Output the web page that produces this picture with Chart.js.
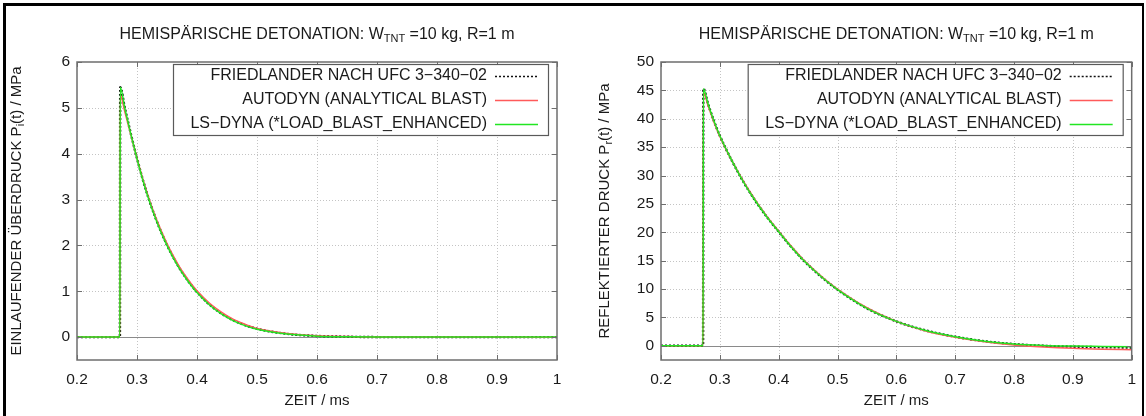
<!DOCTYPE html>
<html>
<head>
<meta charset="utf-8">
<script src="https://cdn.jsdelivr.net/npm/chart.js@4.4.1/dist/chart.umd.min.js"></script>
<style>
  html, body { margin: 0; padding: 0; background: #fff; }
  #wrap { position: relative; width: 1146px; height: 416px; overflow: hidden; }
  .panel { position: absolute; top: 0; }
  #frame {
    position: absolute; left: 3px; top: 3px; width: 1141px; height: 420px;
    border-top: 3px solid #000; border-left: 3px solid #000; border-right: 2px solid #000;
    box-sizing: border-box; pointer-events: none;
  }
</style>
</head>
<body>
<div id="wrap">
  <canvas id="incChart" class="panel" style="left:0" width="573" height="416"></canvas>
  <canvas id="refChart" class="panel" style="left:573px" width="573" height="416"></canvas>
  <div id="frame"></div>
</div>
<script>
// time axis and tick values (ms)
const xTicks = [0.2, 0.3, 0.4, 0.5, 0.6, 0.7, 0.8, 0.9, 1.0];
const yTicksInc = [0, 1, 2, 3, 4, 5, 6];
const yTicksRef = [0, 5, 10, 15, 20, 25, 30, 35, 40, 45, 50];

const seriesLabels = [
  'FRIEDLANDER NACH UFC 3\u2212340\u221202',
  'AUTODYN (ANALYTICAL BLAST)',
  'LS\u2212DYNA (*LOAD_BLAST_ENHANCED)'
];

// incident overpressure P_i(t) in MPa
const timeInc = [0.2, 0.2715, 0.272, 0.28, 0.29, 0.30, 0.31, 0.32, 0.33, 0.34, 0.35, 0.36, 0.37, 0.38, 0.39, 0.40,
                 0.42, 0.44, 0.46, 0.48, 0.50, 0.55, 0.60, 0.65, 0.70, 0.80, 0.90, 1.0];
const friedInc   = [0, 0, 5.45, 4.98, 4.42, 3.90, 3.42, 3.00, 2.63, 2.30, 2.01, 1.75, 1.52, 1.32, 1.14, 0.98,
                    0.72, 0.52, 0.37, 0.26, 0.18, 0.07, 0.025, 0.008, 0, 0, 0, 0];
const autodynInc = [0, 0, 5.28, 4.90, 4.40, 3.90, 3.43, 3.02, 2.65, 2.33, 2.04, 1.78, 1.55, 1.35, 1.17, 1.01,
                    0.75, 0.55, 0.39, 0.28, 0.19, 0.08, 0.03, 0.01, 0, 0, 0, -0.005];
const lsdynaInc  = [0, 0, 5.45, 4.97, 4.41, 3.89, 3.41, 2.99, 2.62, 2.29, 2.00, 1.74, 1.51, 1.31, 1.13, 0.97,
                    0.71, 0.51, 0.36, 0.25, 0.17, 0.065, 0.02, 0.005, 0, 0, 0, 0];

// reflected pressure P_r(t) in MPa
const timeRef = [0.2, 0.2715, 0.272, 0.28, 0.29, 0.30, 0.32, 0.34, 0.36, 0.38, 0.40, 0.42, 0.44, 0.46, 0.48,
                 0.50, 0.55, 0.60, 0.65, 0.70, 0.75, 0.80, 0.85, 0.90, 0.95, 1.0];
const friedRef   = [0, 0, 45.3, 42.6, 39.6, 37.0, 32.7, 28.9, 25.6, 22.7, 20.1, 17.6, 15.3, 13.3, 11.5,
                    9.9, 6.6, 4.3, 2.7, 1.6, 0.8, 0.3, 0.0, -0.15, -0.25, -0.3];
const autodynRef = [0, 0, 44.6, 42.3, 39.4, 36.9, 32.7, 29.0, 25.7, 22.8, 20.2, 17.7, 15.4, 13.4, 11.6,
                    10.0, 6.7, 4.3, 2.6, 1.5, 0.7, 0.15, -0.2, -0.45, -0.6, -0.7];
const lsdynaRef  = [0, 0, 45.3, 42.6, 39.6, 37.0, 32.7, 28.9, 25.6, 22.7, 20.1, 17.6, 15.3, 13.3, 11.5,
                    9.9, 6.6, 4.3, 2.7, 1.6, 0.8, 0.3, 0.05, -0.05, -0.1, -0.15];

const FAMILY = '"Liberation Sans", Arial, sans-serif';
const TITLE_FONT = '16px ' + FAMILY;
const AXIS_FONT = '15px ' + FAMILY;
const SUB_FONT = '11px ' + FAMILY;
const TEXT_COLOR = '#1a1a1a';

const titleSegs = [
  { t: 'HEMISP\u00c4RISCHE DETONATION: W' }, { t: 'TNT', sub: true }, { t: ' =10 kg, R=1 m' }
];

const styles = [
  { borderColor: '#111111', borderWidth: 2.4, borderDash: [2, 2], order: 3 },
  { borderColor: '#ff5a5a', borderWidth: 1.5, borderDash: [], order: 2 },
  { borderColor: '#22e622', borderWidth: 1.5, borderDash: [], order: 1 }
];

function richWidth(ctx, segs, font) {
  let w = 0;
  for (const s of segs) {
    ctx.font = s.sub ? SUB_FONT : font;
    w += ctx.measureText(s.t).width;
  }
  return w;
}

function drawRich(ctx, segs, cx, cy, font) {
  let x = cx - richWidth(ctx, segs, font) / 2;
  ctx.textAlign = 'left';
  ctx.textBaseline = 'middle';
  ctx.fillStyle = TEXT_COLOR;
  for (const s of segs) {
    ctx.font = s.sub ? SUB_FONT : font;
    ctx.fillText(s.t, x, cy + (s.sub ? 4 : 0));
    x += ctx.measureText(s.t).width;
  }
}

// gnuplot-like frame: dotted grid, zero axis, border, inward ticks, boxed legend, titles
const gnuFrame = {
  id: 'gnuFrame',
  beforeDatasetsDraw(chart, args, opts) {
    const { ctx, chartArea: a, scales: { x, y } } = chart;
    ctx.save();
    ctx.strokeStyle = '#c4c4c4';
    ctx.lineWidth = 1;
    ctx.setLineDash([1, 2]);
    xTicks.forEach(v => {
      const px = Math.round(x.getPixelForValue(v)) + 0.5;
      if (px <= a.left + 1 || px >= a.right - 1) return;
      ctx.beginPath(); ctx.moveTo(px, a.top); ctx.lineTo(px, a.bottom); ctx.stroke();
    });
    opts.yTicks.forEach(v => {
      const py = Math.round(y.getPixelForValue(v)) + 0.5;
      if (py <= a.top + 1 || py >= a.bottom - 1) return;
      ctx.beginPath(); ctx.moveTo(a.left, py); ctx.lineTo(a.right, py); ctx.stroke();
    });
    ctx.setLineDash([]);
    ctx.strokeStyle = '#8a8a8a';
    const y0 = Math.round(y.getPixelForValue(0)) + 0.5;
    ctx.beginPath(); ctx.moveTo(a.left, y0); ctx.lineTo(a.right, y0); ctx.stroke();
    ctx.restore();
  },
  afterDatasetsDraw(chart, args, opts) {
    const { ctx, chartArea: a, scales: { x, y } } = chart;
    ctx.save();
    // border
    ctx.strokeStyle = '#6e6e6e';
    ctx.lineWidth = 1.5;
    ctx.strokeRect(a.left, a.top, a.right - a.left, a.bottom - a.top);
    // inward tick marks
    ctx.lineWidth = 1;
    xTicks.forEach(v => {
      const px = Math.round(x.getPixelForValue(v)) + 0.5;
      ctx.beginPath();
      ctx.moveTo(px, a.bottom); ctx.lineTo(px, a.bottom - 5);
      ctx.moveTo(px, a.top); ctx.lineTo(px, a.top + 5);
      ctx.stroke();
    });
    opts.yTicks.forEach(v => {
      const py = Math.round(y.getPixelForValue(v)) + 0.5;
      ctx.beginPath();
      ctx.moveTo(a.left, py); ctx.lineTo(a.left + 5, py);
      ctx.moveTo(a.right, py); ctx.lineTo(a.right - 5, py);
      ctx.stroke();
    });

    // legend box
    const boxR = a.right - 9, boxL = boxR - 375, boxT = a.top + 2, boxB = boxT + 71;
    ctx.fillStyle = '#fff';
    ctx.fillRect(boxL, boxT, boxR - boxL, boxB - boxT);
    ctx.strokeStyle = '#5a5a5a';
    ctx.lineWidth = 1.2;
    ctx.strokeRect(boxL + 0.5, boxT + 0.5, boxR - boxL, boxB - boxT);
    chart.data.datasets.forEach((ds, i) => {
      const ry = boxT + 12 + i * 24;
      ctx.font = TITLE_FONT;
      ctx.fillStyle = TEXT_COLOR;
      ctx.textAlign = 'right';
      ctx.textBaseline = 'middle';
      ctx.fillText(ds.label, boxR - 61, ry);
      ctx.strokeStyle = ds.borderColor;
      ctx.lineWidth = i === 0 ? 1.6 : 1.5;
      ctx.setLineDash(ds.borderDash);
      ctx.beginPath(); ctx.moveTo(boxR - 53, ry + 0.5); ctx.lineTo(boxR - 10, ry + 0.5); ctx.stroke();
      ctx.setLineDash([]);
    });

    // titles
    const cx = (a.left + a.right) / 2;
    drawRich(ctx, titleSegs, cx, 35, TITLE_FONT);
    drawRich(ctx, [{ t: 'ZEIT / ms' }], cx, 401, AXIS_FONT);
    ctx.translate(opts.yTitleX, (a.top + a.bottom) / 2);
    ctx.rotate(-Math.PI / 2);
    drawRich(ctx, opts.yTitle, 0, 0, AXIS_FONT);
    ctx.restore();
  }
};

function makeChart(canvasId, time, values, p) {
  const datasets = values.map((vals, i) => Object.assign({
    label: seriesLabels[i],
    data: time.map((t, k) => ({ x: t, y: vals[k] })),
    pointRadius: 0,
    fill: false,
    cubicInterpolationMode: 'monotone'
  }, styles[i]));

  return new Chart(document.getElementById(canvasId), {
    type: 'line',
    data: { datasets },
    plugins: [gnuFrame],
    options: {
      responsive: false,
      animation: false,
      devicePixelRatio: 1,
      layout: { padding: { top: 62, right: p.padRight, bottom: 0, left: 0 } },
      plugins: {
        legend: { display: false },
        tooltip: { enabled: false },
        gnuFrame: { yTicks: p.yTicks, yTitle: p.yTitle, yTitleX: p.yTitleX }
      },
      scales: {
        x: {
          type: 'linear', min: 0.2, max: 1,
          afterBuildTicks: s => { s.ticks = xTicks.map(v => ({ value: v })); },
          afterFit: s => { s.height = 56; },
          grid: { display: false, drawTicks: false },
          border: { display: false },
          ticks: {
            padding: 10, maxRotation: 0, autoSkip: false,
            color: TEXT_COLOR, font: { family: FAMILY, size: 15.5 },
            callback: v => String(+v.toFixed(1))
          }
        },
        y: {
          type: 'linear', min: p.yMin, max: p.yMax,
          afterBuildTicks: s => { s.ticks = p.yTicks.map(v => ({ value: v })); },
          afterFit: s => { s.width = p.yAxisWidth; },
          grid: { display: false, drawTicks: false },
          border: { display: false },
          ticks: {
            padding: 7, autoSkip: false,
            color: TEXT_COLOR, font: { family: FAMILY, size: 15.5 }
          }
        }
      }
    }
  });
}

makeChart('incChart', timeInc, [friedInc, autodynInc, lsdynaInc], {
  yMin: -0.5, yMax: 6, yTicks: yTicksInc, yAxisWidth: 77, padRight: 16, yTitleX: 17,
  yTitle: [{ t: 'EINLAUFENDER \u00dcBERDRUCK P' }, { t: 'i', sub: true }, { t: '(t) / MPa' }]
});

makeChart('refChart', timeRef, [friedRef, autodynRef, lsdynaRef], {
  yMin: -2.5, yMax: 50, yTicks: yTicksRef, yAxisWidth: 88, padRight: 13, yTitleX: 32,
  yTitle: [{ t: 'REFLEKTIERTER DRUCK P' }, { t: 'r', sub: true }, { t: '(t) / MPa' }]
});
</script>
</body>
</html>
